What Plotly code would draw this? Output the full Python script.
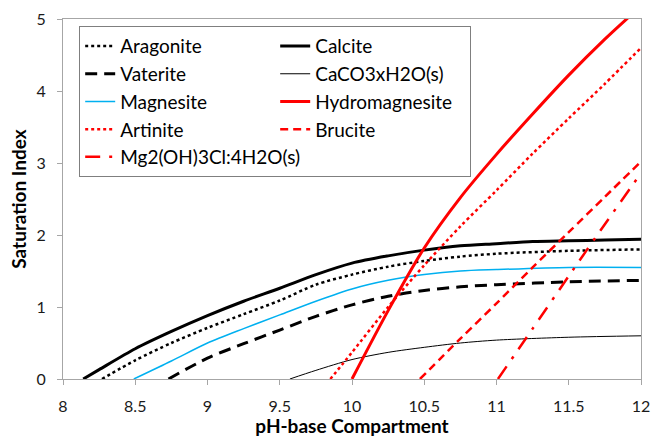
import plotly.graph_objects as go

# ---- data ----
calcite_x = [8.14, 8.25, 8.5, 8.75, 9.0, 9.25, 9.5, 9.75, 10.0, 10.25, 10.5, 10.75, 11.0, 11.25, 11.5, 11.75, 12.0]
calcite_y = [0.0, 0.13, 0.42, 0.66, 0.88, 1.08, 1.26, 1.45, 1.61, 1.71, 1.79, 1.85, 1.88, 1.91, 1.92, 1.93, 1.94]

aragonite_x = [8.27, 8.5, 8.75, 9.0, 9.25, 9.5, 9.75, 10.0, 10.25, 10.5, 10.75, 11.0, 11.5, 12.0]
aragonite_y = [0.0, 0.26, 0.5, 0.71, 0.9, 1.09, 1.31, 1.45, 1.56, 1.64, 1.7, 1.74, 1.78, 1.8]

vaterite_x = [8.73, 9.0, 9.25, 9.5, 9.75, 10.0, 10.25, 10.5, 10.75, 11.0, 11.5, 12.0]
vaterite_y = [0.0, 0.29, 0.49, 0.68, 0.87, 1.03, 1.15, 1.23, 1.28, 1.31, 1.35, 1.37]

caco3_x = [9.57, 9.75, 10.0, 10.25, 10.5, 10.75, 11.0, 11.5, 12.0]
caco3_y = [0.0, 0.12, 0.27, 0.37, 0.44, 0.5, 0.54, 0.58, 0.6]

magnesite_x = [8.49, 8.75, 9.0, 9.25, 9.5, 9.75, 10.0, 10.25, 10.5, 10.75, 11.0, 11.5, 12.0]
magnesite_y = [0.0, 0.25, 0.5, 0.7, 0.89, 1.08, 1.25, 1.37, 1.45, 1.5, 1.52, 1.55, 1.55]

hydromag_x = [10.0, 10.25, 10.5, 10.75, 11.0, 11.25, 11.5, 11.75, 12.0]
hydromag_y = [0.0, 0.95, 1.82, 2.52, 3.12, 3.68, 4.22, 4.72, 5.18]

artinite_x = [9.85, 10.0, 10.25, 10.5, 10.75, 11.0, 11.25, 11.5, 11.75, 12.0]
artinite_y = [0.0, 0.37, 1.0, 1.58, 2.12, 2.62, 3.13, 3.62, 4.1, 4.6]

brucite_x = [10.47, 10.75, 11.0, 11.25, 11.5, 11.75, 12.0]
brucite_y = [0.0, 0.56, 1.05, 1.55, 2.04, 2.53, 3.02]

mgcl_x = [11.01, 11.25, 11.5, 11.75, 12.0]
mgcl_y = [0.0, 0.7, 1.43, 2.15, 2.86]

x_ticks = [8, 8.5, 9, 9.5, 10, 10.5, 11, 11.5, 12]
x_tick_labels = ["8", "8.5", "9", "9.5", "10", "10.5", "11", "11.5", "12"]
y_ticks = [0, 1, 2, 3, 4, 5]

RED = "#ff0000"
CYAN = "#00b0f0"
BLACK = "#000000"

series = [
    ("Aragonite", aragonite_x, aragonite_y, BLACK, 2.5, "dot"),
    ("Calcite", calcite_x, calcite_y, BLACK, 3, "solid"),
    ("Vaterite", vaterite_x, vaterite_y, BLACK, 3, "12px,7px"),
    ("CaCO3xH2O(s)", caco3_x, caco3_y, BLACK, 1, "solid"),
    ("Magnesite", magnesite_x, magnesite_y, CYAN, 1.5, "solid"),
    ("Hydromagnesite", hydromag_x, hydromag_y, RED, 3, "solid"),
    ("Artinite", artinite_x, artinite_y, RED, 2.5, "dot"),
    ("Brucite", brucite_x, brucite_y, RED, 2.5, "8px,5px"),
    ("Mg2(OH)3Cl:4H2O(s)", mgcl_x, mgcl_y, RED, 2.5, "15px,9px,3px,9px"),
]

fig = go.Figure()
for name, xs, ys, color, width, dash in series:
    fig.add_trace(go.Scatter(
        x=xs, y=ys, name=name, mode="lines",
        line=dict(color=color, width=width, dash=dash, shape="spline", smoothing=0.8),
    ))

FONT = "Lato, 'Open Sans', sans-serif"

fig.update_layout(
    width=653, height=437,
    margin=dict(l=63, r=12, t=19, b=58),
    paper_bgcolor="white", plot_bgcolor="white",
    font=dict(family=FONT, size=16, color="#1a1a1a"),
    showlegend=True,
    legend=dict(
        orientation="h",
        x=0.028, y=0.98, xanchor="left", yanchor="top",
        entrywidth=150, entrywidthmode="pixels",
        itemwidth=30,
        bgcolor="white", bordercolor="#7f7f7f", borderwidth=1,
        font=dict(family=FONT, size=19, color="#000000"),
        traceorder="normal",
    ),
    xaxis=dict(
        range=[8, 12], tickmode="array", tickvals=x_ticks, ticktext=x_tick_labels,
        showgrid=False, zeroline=False, automargin=False,
        showline=True, linecolor="#a6a6a6", linewidth=1, mirror=True,
        ticks="outside", ticklen=5, tickcolor="#a6a6a6",
        ticklabelstandoff=8,
        tickfont=dict(family=FONT, size=16, color="#1a1a1a"),
        title=dict(text="<b>pH-base Compartment</b>", font=dict(family=FONT, size=19, color="#000000"), standoff=6),
    ),
    yaxis=dict(
        range=[0, 5], tickmode="array", tickvals=y_ticks,
        showgrid=False, zeroline=False, automargin=False,
        showline=True, linecolor="#a6a6a6", linewidth=1, mirror=True,
        ticks="outside", ticklen=5, tickcolor="#a6a6a6",
        ticklabelstandoff=8,
        tickfont=dict(family=FONT, size=16, color="#1a1a1a"),
        title=dict(text="<b>Saturation Index</b>", font=dict(family=FONT, size=19, color="#000000"), standoff=4),
    ),
)

fig.write_html("out.html")
